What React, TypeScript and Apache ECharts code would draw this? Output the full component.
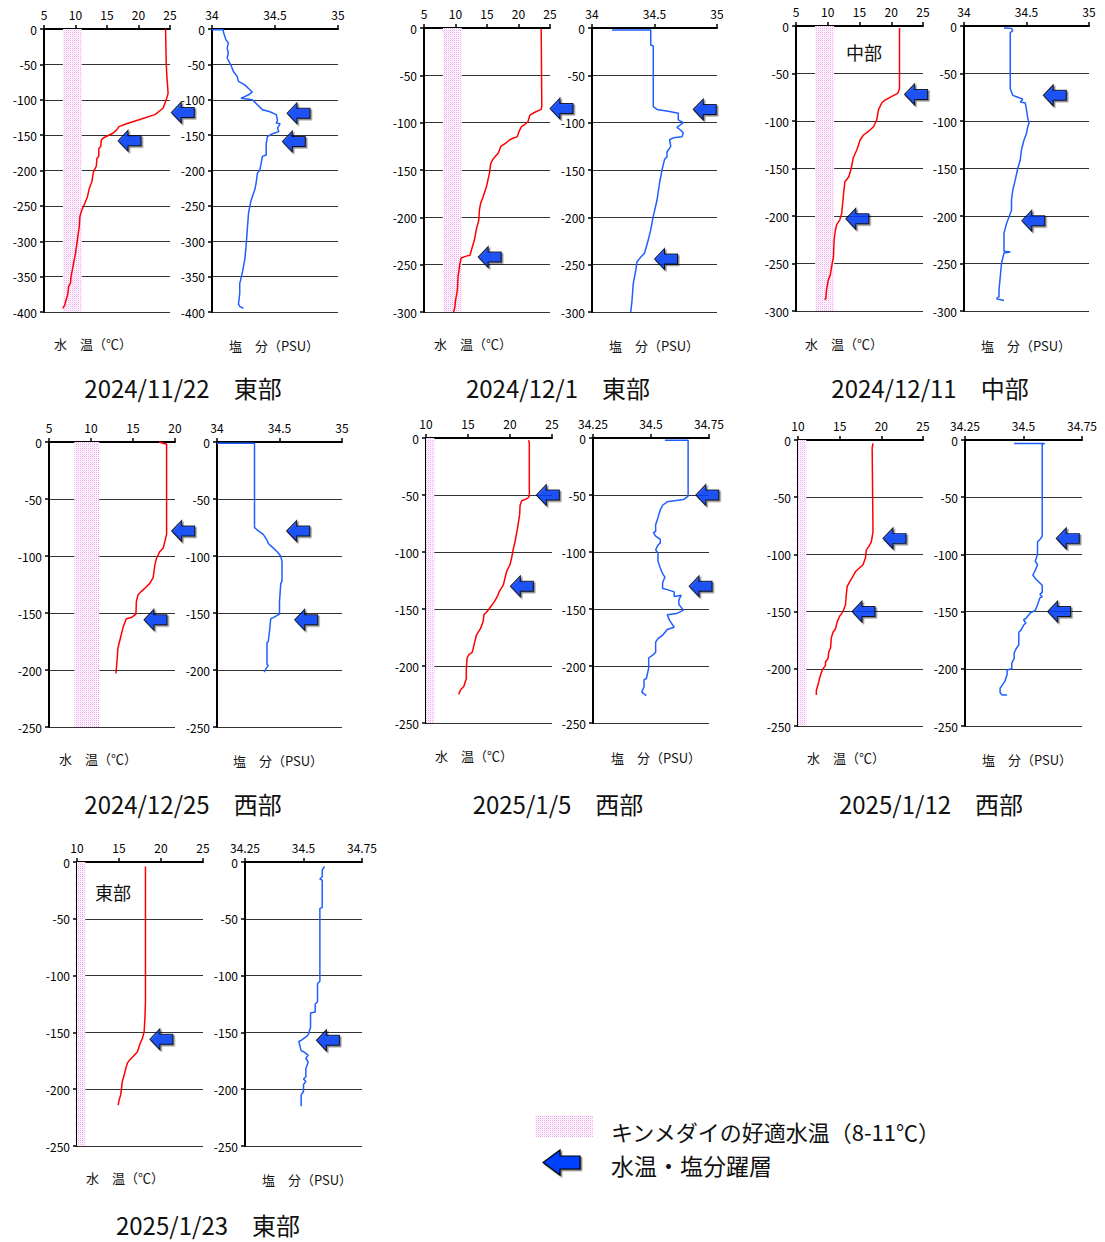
import React, { useEffect, useRef } from 'react';
import * as echarts from 'echarts';

const FONT = '"Noto Sans CJK JP", "Noto Sans", sans-serif';

// ---- titles / labels ----
const titles = ['2024/11/22　東部', '2024/12/1　東部', '2024/12/11　中部', '2024/12/25　西部', '2025/1/5　西部', '2025/1/12　西部', '2025/1/23　東部'];
const tempCaption = '水　温（℃）';
const salCaption = '塩　分（PSU）';
const legendBand = 'キンメダイの好適水温（8-11℃）';
const legendArrow = '水温・塩分躍層';

// ---- axis ranges ----
const tempRanges = [[5, 25], [5, 25], [5, 25], [5, 20], [10, 25], [10, 25], [10, 25]];
const salRanges = [[34, 35, 0.5], [34, 35, 0.5], [34, 35, 0.5], [34, 35, 0.5], [34.25, 34.75, 0.25], [34.25, 34.75, 0.25], [34.25, 34.75, 0.25]];
const depthMins = [-400, -300, -300, -250, -250, -250, -250];
const bandRange = [8, 11];

// ---- profiles [value, depth] ----
const t1 = [[24.2,0],[24.3,-2],[24.4,-48],[24.5,-67],[24.7,-91],[24.4,-100],[23.9,-112],[22.6,-121],[20.2,-128],[18.1,-134],[16.9,-138],[16.5,-143],[16.0,-147],[14.4,-154],[14.1,-157],[14.0,-166],[13.7,-169],[13.7,-180],[13.4,-183],[13.3,-194],[13.0,-199],[12.8,-204],[12.6,-216],[12.2,-225],[11.9,-237],[11.5,-246],[11.0,-256],[10.7,-265],[10.6,-279],[10.3,-298],[10.0,-317],[9.7,-331],[9.3,-350],[9.2,-359],[8.9,-364],[8.8,-374],[8.5,-383],[8.3,-390],[8.0,-395]];
const s1 = [[34.0,-1],[34.09,-1],[34.09,-4],[34.11,-15],[34.13,-20],[34.12,-27],[34.13,-34],[34.12,-41],[34.15,-51],[34.17,-60],[34.2,-67],[34.21,-74],[34.26,-79],[34.29,-84],[34.32,-89],[34.29,-93],[34.23,-98],[34.32,-100],[34.36,-107],[34.4,-114],[34.46,-117],[34.51,-121],[34.52,-129],[34.51,-133],[34.54,-134],[34.52,-140],[34.53,-145],[34.48,-148],[34.44,-152],[34.43,-162],[34.43,-178],[34.4,-180],[34.39,-190],[34.38,-199],[34.36,-204],[34.35,-218],[34.34,-227],[34.31,-242],[34.3,-251],[34.29,-260],[34.28,-284],[34.27,-308],[34.26,-326],[34.24,-345],[34.22,-360],[34.22,-374],[34.21,-389],[34.22,-392],[34.25,-395]];
const t2 = [[23.6,-1],[23.7,-83],[23.6,-86],[22.6,-89],[21.8,-92],[21.5,-99],[21.0,-102],[20.5,-104],[20.1,-109],[19.8,-115],[19.3,-116],[18.6,-118],[18.1,-121],[17.2,-125],[16.8,-132],[16.0,-138],[15.6,-143],[15.4,-153],[14.9,-168],[14.4,-178],[14.0,-185],[13.8,-192],[13.7,-203],[13.3,-213],[13.0,-224],[12.6,-233],[12.3,-240],[11.7,-241],[10.9,-243],[10.7,-249],[10.4,-263],[10.3,-277],[10.0,-288],[9.9,-295],[9.7,-300]];
const s2 = [[34.16,-2],[34.47,-2],[34.47,-18],[34.49,-19],[34.49,-83],[34.52,-86],[34.61,-88],[34.69,-90],[34.69,-97],[34.73,-100],[34.7,-103],[34.68,-105],[34.71,-108],[34.73,-111],[34.72,-115],[34.65,-116],[34.62,-118],[34.63,-125],[34.6,-131],[34.6,-136],[34.58,-139],[34.56,-150],[34.54,-164],[34.52,-182],[34.49,-199],[34.47,-213],[34.45,-224],[34.42,-238],[34.39,-242],[34.36,-247],[34.35,-256],[34.33,-270],[34.32,-288],[34.31,-300]];
const t3 = [[21.3,-2],[21.3,-66],[21.0,-71],[20.1,-74],[19.0,-78],[18.5,-81],[18.0,-88],[17.7,-99],[17.2,-106],[16.4,-111],[15.6,-115],[15.1,-120],[14.6,-130],[14.0,-139],[13.7,-150],[13.3,-159],[12.7,-164],[12.5,-176],[12.2,-197],[11.9,-204],[11.4,-209],[11.2,-215],[11.0,-225],[10.9,-243],[10.7,-250],[10.4,-262],[10.1,-267],[9.8,-278],[9.7,-287],[9.5,-288]];
const s3 = [[34.32,-2],[34.38,-2.5],[34.39,-5],[34.37,-7],[34.37,-66],[34.39,-73],[34.43,-75],[34.47,-77],[34.45,-80],[34.49,-81],[34.5,-88],[34.51,-97],[34.52,-102],[34.51,-106],[34.5,-113],[34.48,-120],[34.46,-130],[34.45,-141],[34.43,-150],[34.41,-162],[34.39,-173],[34.38,-183],[34.38,-194],[34.36,-201],[34.34,-208],[34.32,-218],[34.32,-230],[34.32,-237],[34.37,-238],[34.32,-239],[34.3,-250],[34.29,-264],[34.28,-278],[34.28,-285],[34.26,-287],[34.32,-289]];
const t4 = [[18.1,0],[19.0,-2],[19.0,-81],[18.8,-87],[18.6,-93],[18.2,-96],[17.8,-102],[17.6,-108],[17.4,-119],[17.0,-124],[16.6,-127],[16.0,-131],[15.6,-134],[15.4,-140],[15.35,-151],[14.8,-154],[14.2,-155],[13.8,-163],[13.4,-175],[13.2,-181],[13.1,-192],[13.0,-200],[12.96,-203]];
const s4 = [[34.0,-1],[34.3,-1],[34.3,-2],[34.3,-75],[34.32,-77],[34.37,-81],[34.4,-86],[34.41,-89],[34.44,-92],[34.48,-96],[34.51,-100],[34.52,-105],[34.52,-122],[34.51,-124],[34.5,-140],[34.5,-151],[34.45,-154],[34.43,-155],[34.42,-166],[34.41,-175],[34.4,-176],[34.4,-195],[34.41,-196],[34.38,-201],[34.38,-202]];
const t5 = [[22.2,-2],[22.3,-4],[22.3,-51],[22.1,-53],[21.4,-55],[21.2,-59],[21.15,-67],[20.9,-79],[20.6,-91],[20.4,-97],[20.2,-105],[20.0,-111],[19.6,-117],[19.4,-123],[19.2,-129],[18.7,-135],[18.5,-139],[18.1,-144],[17.7,-148],[17.3,-152],[16.9,-155],[16.8,-161],[16.5,-167],[16.0,-173],[15.8,-179],[15.5,-188],[15.1,-190],[14.9,-193],[14.8,-202],[14.8,-211],[14.5,-218],[14.1,-221],[13.9,-225]];
const s5 = [[34.56,-2],[34.66,-2],[34.66,-51],[34.64,-54],[34.57,-56],[34.55,-59],[34.54,-63],[34.53,-70],[34.52,-76],[34.52,-82],[34.51,-83],[34.52,-86],[34.54,-89],[34.54,-92],[34.53,-94],[34.52,-98],[34.53,-101],[34.53,-108],[34.54,-114],[34.55,-119],[34.56,-122],[34.55,-127],[34.55,-132],[34.57,-133],[34.6,-135],[34.6,-139],[34.63,-138],[34.62,-142],[34.62,-146],[34.64,-151],[34.61,-154],[34.57,-155],[34.58,-160],[34.6,-166],[34.57,-168],[34.55,-173],[34.53,-176],[34.52,-179],[34.52,-188],[34.51,-190],[34.49,-193],[34.49,-202],[34.48,-211],[34.47,-212],[34.47,-218],[34.46,-223],[34.48,-226]];
const t6 = [[19.0,-3],[18.9,-7],[19.0,-80],[18.8,-89],[18.5,-93],[18.2,-96],[18.1,-103],[17.8,-109],[17.2,-113],[16.9,-115],[16.6,-119],[16.2,-124],[15.9,-128],[15.8,-135],[15.7,-144],[15.4,-150],[15.0,-154],[14.7,-159],[14.5,-165],[14.2,-168],[14.0,-173],[13.9,-182],[13.7,-185],[13.6,-191],[13.3,-194],[13.3,-197],[12.9,-201],[12.6,-208],[12.4,-214],[12.2,-219],[12.2,-223]];
const s6 = [[34.46,-3],[34.59,-3],[34.58,-4],[34.58,-84],[34.57,-87],[34.56,-89],[34.56,-98],[34.56,-100],[34.55,-106],[34.56,-109],[34.55,-114],[34.54,-118],[34.55,-121],[34.57,-125],[34.58,-127],[34.58,-133],[34.57,-135],[34.58,-137],[34.57,-138],[34.56,-144],[34.55,-149],[34.53,-151],[34.51,-156],[34.5,-157],[34.51,-160],[34.5,-162],[34.49,-166],[34.48,-168],[34.48,-179],[34.47,-182],[34.46,-186],[34.46,-191],[34.45,-195],[34.45,-200],[34.43,-201],[34.43,-205],[34.42,-211],[34.41,-214],[34.4,-217],[34.4,-221],[34.41,-223],[34.43,-223]];
const t7 = [[18.15,-4],[18.15,-123],[18.1,-135],[18.0,-149],[17.8,-155],[17.5,-160],[17.2,-167],[16.7,-171],[16.3,-174],[16.0,-177],[15.8,-182],[15.6,-188],[15.4,-193],[15.3,-199],[15.2,-205],[15.0,-210],[14.9,-214]];
const s7 = [[34.59,-4],[34.58,-7],[34.58,-13],[34.57,-15],[34.58,-16],[34.58,-40],[34.57,-41],[34.57,-105],[34.56,-107],[34.56,-123],[34.55,-125],[34.55,-132],[34.53,-133],[34.53,-146],[34.52,-152],[34.51,-154],[34.49,-157],[34.48,-158],[34.49,-166],[34.5,-167],[34.52,-170],[34.51,-173],[34.52,-176],[34.51,-182],[34.51,-189],[34.5,-191],[34.51,-193],[34.5,-196],[34.5,-202],[34.49,-205],[34.49,-208],[34.49,-215]];

// ---- thermocline / halocline arrows [value, depth] (arrow tip) ----
const ta1 = [[25.2,-118],[16.75,-158]];
const sa1 = [[34.595,-119],[34.558,-159]];
const ta2 = [[25.0,-85],[13.6,-242]];
const sa2 = [[34.81,-86],[34.5,-244]];
const ta3 = [[22.1,-72],[12.84,-203]];
const sa3 = [[34.634,-73],[34.462,-205]];
const ta4 = [[19.6,-78],[16.3,-156]];
const sa4 = [[34.557,-78],[34.621,-156]];
const ta5 = [[23.13,-50],[20.04,-130]];
const sa5 = [[34.693,-50],[34.664,-130]];
const ta6 = [[20.2,-86],[16.48,-150]];
const sa6 = [[34.64,-86],[34.603,-150]];
const ta7 = [[18.67,-156]];
const sa7 = [[34.555,-157]];

const temps = [t1, t2, t3, t4, t5, t6, t7];
const sals = [s1, s2, s3, s4, s5, s6, s7];
const tArrows = [ta1, ta2, ta3, ta4, ta5, ta6, ta7];
const sArrows = [sa1, sa2, sa3, sa4, sa5, sa6, sa7];

// ---- layout (pixels) ----
const layout = [
  { t: [44, 29, 126, 283], s: [212, 29, 126, 283], tc: [93, 343], sc: [274, 345], title: [183, 387], note: null },
  { t: [424, 28, 126, 284], s: [592, 28, 125, 284], tc: [473, 343], sc: [654, 345], title: [558, 387], note: null },
  { t: [796, 26, 127, 285], s: [964, 26, 125, 285], tc: [844, 343], sc: [1026, 345], title: [930, 387], note: ['中部', 864, 52] },
  { t: [49, 442, 126, 285], s: [217, 442, 125, 285], tc: [98, 758], sc: [278, 760], title: [183, 803], note: null },
  { t: [426, 438, 126, 285], s: [593, 438, 116, 285], tc: [474, 755], sc: [656, 757], title: [558, 803], note: null },
  { t: [798, 440, 125, 286], s: [965, 440, 117, 286], tc: [846, 757], sc: [1027, 759], title: [931, 803], note: null },
  { t: [77, 862, 126, 284], s: [245, 862, 117, 284], tc: [125, 1177], sc: [307, 1179], title: [208, 1224], note: ['東部', 113, 892] },
];

const ARROW = 'path://M0,10.5L10,0L10,5.5L23,5.5L23,15.5L10,15.5L10,21Z';

function makePattern(): any {
  const c = document.createElement('canvas');
  c.width = 2;
  c.height = 2;
  const ctx = c.getContext('2d')!;
  ctx.fillStyle = '#ffffff';
  ctx.fillRect(0, 0, 2, 2);
  ctx.fillStyle = '#F2A6F2';
  ctx.fillRect(0, 0, 1, 1);
  ctx.fillStyle = '#FBE2FB';
  ctx.fillRect(1, 1, 1, 1);
  return { image: c, repeat: 'repeat', imageWidth: 2, imageHeight: 2 };
}

function textEl(text: string, x: number, y: number, size: number, align = 'center') {
  return {
    type: 'text',
    x,
    y,
    silent: true,
    style: {
      text,
      fill: '#111',
      font: `${size}px ${FONT}`,
      textAlign: align,
      align,
      textVerticalAlign: 'middle',
      verticalAlign: 'middle',
    },
  };
}

function buildOption() {
  const pattern = makePattern();
  const grids: any[] = [];
  const xAxes: any[] = [];
  const yAxes: any[] = [];
  const series: any[] = [];
  const graphics: any[] = [];
  const labelStyle = { fontSize: 12, lineHeight: 12, color: '#000', fontFamily: FONT };

  layout.forEach((L, i) => {
    ['t', 's'].forEach((kind) => {
      const isT = kind === 't';
      const g = isT ? L.t : L.s;
      const idx = grids.length;
      grids.push({ left: g[0], top: g[1], width: g[2], height: g[3] });
      const min = isT ? tempRanges[i][0] : salRanges[i][0];
      const max = isT ? tempRanges[i][1] : salRanges[i][1];
      const interval = isT ? 5 : salRanges[i][2];
      xAxes.push({
        type: 'value',
        gridIndex: idx,
        position: 'top',
        min,
        max,
        interval,
        axisLine: { show: true, onZero: false, lineStyle: { color: '#000', width: 2 } },
        axisTick: { show: true, length: 4, lineStyle: { color: '#000', width: 1.5 } },
        axisLabel: { ...labelStyle, margin: 9, formatter: (v: number) => String(v) },
        splitLine: { show: false },
      });
      yAxes.push({
        type: 'value',
        gridIndex: idx,
        min: depthMins[i],
        max: 0,
        interval: 50,
        axisLine: { show: true, onZero: false, lineStyle: { color: '#000', width: 2 } },
        axisTick: { show: true, length: 4, lineStyle: { color: '#000', width: 1.5 } },
        axisLabel: { ...labelStyle, margin: 7 },
        splitLine: { show: true, lineStyle: { color: '#333', width: 1 } },
      });
      const lineSeries: any = {
        type: 'line',
        name: isT ? '水温' : '塩分',
        xAxisIndex: idx,
        yAxisIndex: idx,
        data: isT ? temps[i] : sals[i],
        showSymbol: false,
        symbol: 'none',
        silent: true,
        z: 3,
        lineStyle: { color: isT ? '#FF0000' : '#1F5FFF', width: 1.5 },
      };
      if (isT) {
        lineSeries.markArea = {
          silent: true,
          itemStyle: { color: pattern },
          data: [[{ xAxis: Math.max(bandRange[0], min) }, { xAxis: bandRange[1] }]],
        };
      }
      series.push(lineSeries);
      series.push({
        type: 'scatter',
        name: '躍層',
        xAxisIndex: idx,
        yAxisIndex: idx,
        data: isT ? tArrows[i] : sArrows[i],
        symbol: ARROW,
        symbolSize: [23, 21],
        symbolOffset: ['50%', 0],
        clip: false,
        silent: true,
        z: 6,
        itemStyle: {
          color: '#0040FF',
          borderColor: '#000',
          borderWidth: 1,
          shadowColor: 'rgba(0,0,0,0.55)',
          shadowOffsetX: 1.5,
          shadowOffsetY: 1.5,
          shadowBlur: 0,
        },
      });
    });
    graphics.push(textEl(tempCaption, L.tc[0], L.tc[1], 13));
    graphics.push(textEl(salCaption, L.sc[0], L.sc[1], 13));
    graphics.push(textEl(titles[i], L.title[0], L.title[1], 24));
    if (L.note) graphics.push(textEl(L.note[0] as string, L.note[1] as number, L.note[2] as number, 18));
  });

  // legend
  graphics.push({ type: 'rect', silent: true, shape: { x: 535, y: 1115, width: 58, height: 22 }, style: { fill: pattern } });
  graphics.push({
    type: 'polygon',
    silent: true,
    shape: { points: [[543, 1162.5], [560, 1150], [560, 1156], [580, 1156], [580, 1169], [560, 1169], [560, 1175]] },
    style: { fill: '#0040FF', stroke: '#000', lineWidth: 1.2, shadowColor: 'rgba(0,0,0,0.55)', shadowOffsetX: 1.5, shadowOffsetY: 1.5 },
  });
  graphics.push(textEl(legendBand, 611, 1131, 22, 'left'));
  graphics.push(textEl(legendArrow, 611, 1165, 23, 'left'));

  return {
    animation: false,
    backgroundColor: '#ffffff',
    textStyle: { fontFamily: FONT },
    grid: grids,
    xAxis: xAxes,
    yAxis: yAxes,
    series,
    graphic: graphics,
  };
}

export default function App() {
  const ref = useRef<HTMLDivElement>(null);
  useEffect(() => {
    if (!ref.current) return;
    const chart = echarts.init(ref.current, undefined, { renderer: 'svg' });
    chart.setOption(buildOption() as any);
    return () => chart.dispose();
  }, []);
  return <div ref={ref} style={{ position: 'absolute', left: 0, top: 0, width: 1105, height: 1242 }} />;
}
